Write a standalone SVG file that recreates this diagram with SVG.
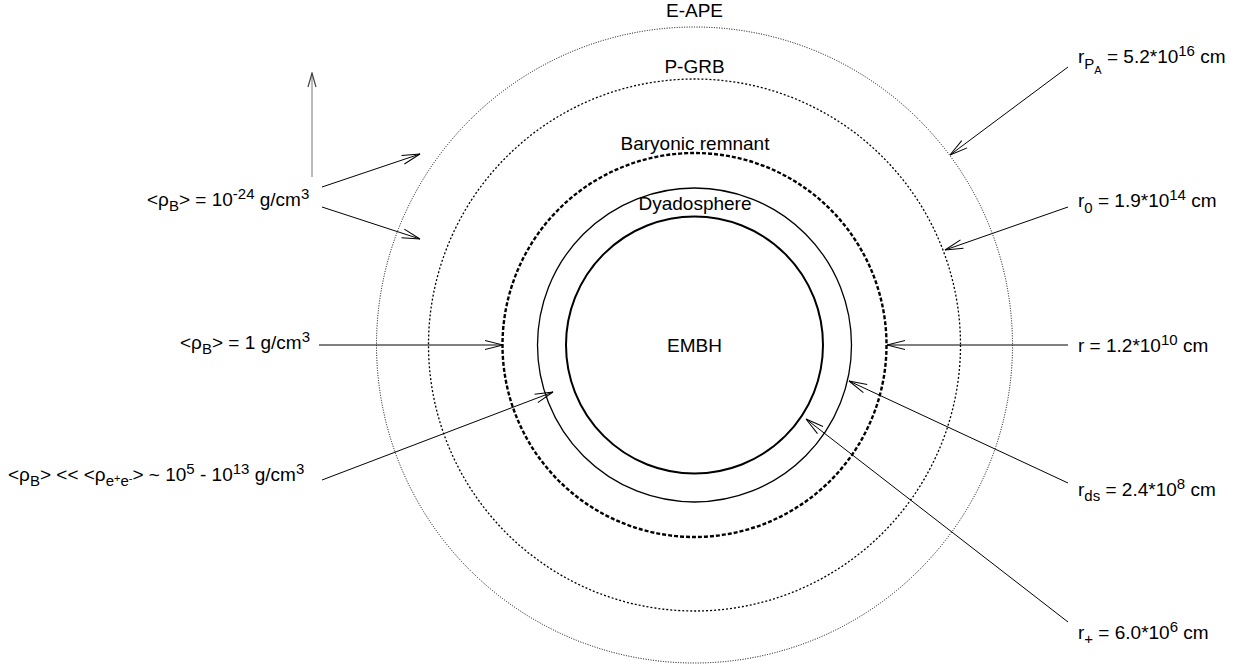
<svg xmlns="http://www.w3.org/2000/svg" width="1245" height="666" viewBox="0 0 1245 666">
<defs>
<style>
text{font-family:"Liberation Sans",Arial,sans-serif;font-size:19px;fill:#000}
.c{text-anchor:middle}
.s{font-size:15px}
.ss{font-size:11px}
.conn line{stroke:#000;stroke-width:1;fill:none}
</style>
<marker id="ah" viewBox="-20 -6 21 12" refX="0" refY="0" markerWidth="21" markerHeight="12" markerUnits="userSpaceOnUse" orient="auto">
<path d="M-18,-4.5 L0,0 L-18,4.5" fill="none" stroke="#000" stroke-width="1"/>
</marker>
<marker id="ahg" viewBox="-20 -6 21 12" refX="0" refY="0" markerWidth="21" markerHeight="12" markerUnits="userSpaceOnUse" orient="auto">
<path d="M-14,-4 L0,0 L-14,4" fill="none" stroke="#444" stroke-width="1.2"/>
</marker>
</defs>
<rect width="1245" height="666" fill="#fff"/>
<g id="eape">
<circle cx="694.5" cy="345" r="318" fill="none" stroke="#000" stroke-width="1" stroke-dasharray="1 1.5"/>
<text class="c" x="694.5" y="17">E-APE</text>
</g>
<g id="pgrb">
<circle cx="694.5" cy="345" r="266" fill="none" stroke="#000" stroke-width="1.3" stroke-dasharray="2 2"/>
<text class="c" x="694.5" y="73">P-GRB</text>
</g>
<g id="baryonic">
<circle cx="694.5" cy="345" r="192" fill="none" stroke="#000" stroke-width="2.4" stroke-dasharray="4 2"/>
<text class="c" x="695" y="150">Baryonic remnant</text>
</g>
<g id="dyadosphere">
<circle cx="694.5" cy="345" r="157" fill="none" stroke="#000" stroke-width="1.3"/>
<text class="c" x="695" y="210">Dyadosphere</text>
</g>
<g id="embh">
<circle cx="694.5" cy="345" r="128.5" fill="none" stroke="#000" stroke-width="2"/>
<text class="c" x="694.5" y="352">EMBH</text>
</g>
<g class="conn" id="connectors">
<line x1="1068" y1="67" x2="950" y2="155" marker-end="url(#ah)"/>
<line x1="1068" y1="207" x2="945" y2="250" marker-end="url(#ah)"/>
<line x1="1068" y1="345" x2="887" y2="345" marker-end="url(#ah)"/>
<line x1="1068" y1="483" x2="849" y2="381" marker-end="url(#ah)"/>
<line x1="1068" y1="622" x2="806" y2="419" marker-end="url(#ah)"/>
<line x1="322" y1="187" x2="420" y2="154" marker-end="url(#ah)"/>
<line x1="322" y1="207" x2="420" y2="239" marker-end="url(#ah)"/>
<line x1="319" y1="345" x2="503" y2="345" marker-end="url(#ah)"/>
<line x1="322" y1="480" x2="553" y2="392" marker-end="url(#ah)"/>
<line x1="312" y1="177" x2="312" y2="73" style="stroke:#777" marker-end="url(#ahg)"/>
</g>
<g id="labels-right">
<text x="1078" y="63">r<tspan class="s" dy="6">P</tspan><tspan class="ss" dy="5">A</tspan><tspan dy="-11"> = 5.2*10</tspan><tspan class="s" dy="-7">16</tspan><tspan dy="7"> cm</tspan></text>
<text x="1078" y="207">r<tspan class="s" dy="6">0</tspan><tspan dy="-6"> = 1.9*10</tspan><tspan class="s" dy="-7">14</tspan><tspan dy="7"> cm</tspan></text>
<text x="1078" y="352">r = 1.2*10<tspan class="s" dy="-7">10</tspan><tspan dy="7"> cm</tspan></text>
<text x="1078" y="496">r<tspan class="s" dy="5">ds</tspan><tspan dy="-5"> = 2.4*10</tspan><tspan class="s" dy="-7">8</tspan><tspan dy="7"> cm</tspan></text>
<text x="1078" y="639">r<tspan class="s" dy="5">+</tspan><tspan dy="-5"> = 6.0*10</tspan><tspan class="s" dy="-7">6</tspan><tspan dy="7"> cm</tspan></text>
</g>
<g id="labels-left">
<text x="147" y="206">&lt;ρ<tspan class="s" dy="5">B</tspan><tspan dy="-5">&gt; = 10</tspan><tspan class="s" dy="-7">-24</tspan><tspan dy="7"> g/cm</tspan><tspan class="s" dy="-7">3</tspan></text>
<text x="180" y="349">&lt;ρ<tspan class="s" dy="5">B</tspan><tspan dy="-5">&gt; = 1 g/cm</tspan><tspan class="s" dy="-7">3</tspan></text>
<text x="8" y="481">&lt;ρ<tspan class="s" dy="5">B</tspan><tspan dy="-5">&gt; &lt;&lt; &lt;ρ</tspan><tspan class="s" dy="5">e</tspan><tspan class="ss" dy="-4">+</tspan><tspan class="s" dy="4">e</tspan><tspan class="ss" dy="-4">-</tspan><tspan dy="-1">&gt; ~ 10</tspan><tspan class="s" dy="-7">5</tspan><tspan dy="7"> - 10</tspan><tspan class="s" dy="-7">13</tspan><tspan dy="7"> g/cm</tspan><tspan class="s" dy="-7">3</tspan></text>
</g>
</svg>
